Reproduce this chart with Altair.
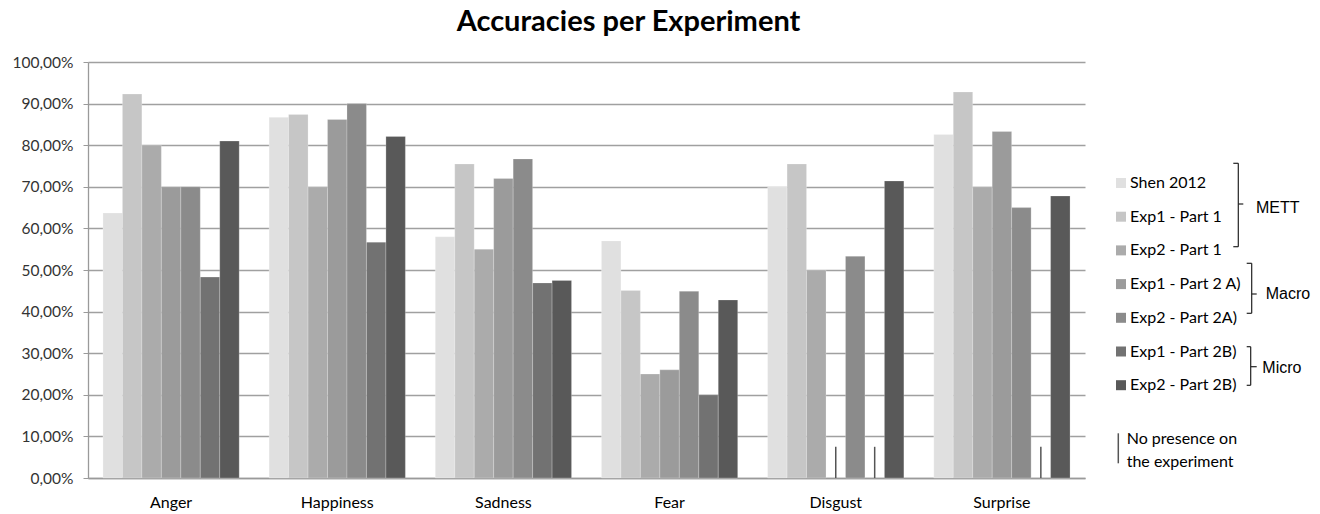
import altair as alt
import pandas as pd

emotions = ["Anger", "Happiness", "Sadness", "Fear", "Disgust", "Surprise"]
series = ["Shen 2012", "Exp1 - Part 1", "Exp2 - Part 1", "Exp1 - Part 2 A)",
          "Exp2 - Part 2A)", "Exp1 - Part 2B)", "Exp2 - Part 2B)"]
colors = ["#e0e0e0", "#c6c6c6", "#ababab", "#9b9b9b", "#8b8b8b", "#727272", "#595959"]

shen_2012 = [63.7, 86.7, 58.0, 57.0, 70.0, 82.6]
exp1_part1 = [92.3, 87.4, 75.5, 45.1, 75.5, 92.8]
exp2_part1 = [80.0, 70.0, 55.0, 25.0, 50.0, 70.0]
exp1_part2a = [70.0, 86.2, 72.0, 26.0, None, 83.3]
exp2_part2a = [70.0, 90.0, 76.7, 44.9, 53.3, 65.0]
exp1_part2b = [48.3, 56.7, 46.9, 20.0, None, None]
exp2_part2b = [81.0, 82.1, 47.5, 42.8, 71.4, 67.8]
marker_height = 7.5

groups = ["METT", "Macro", "Micro"]
missing_note = ["No presence on", "the experiment"]

values = [shen_2012, exp1_part1, exp2_part1, exp1_part2a, exp2_part2a, exp1_part2b, exp2_part2b]
rows = []
for s, vals in zip(series, values):
    for e, v in zip(emotions, vals):
        rows.append({"emotion": e, "series": s, "value": v})
df = pd.DataFrame(rows)
present = df[df["value"].notna()]
missing = df[df["value"].isna()]

FONT = "Lato"
x_enc = alt.X("emotion:N", sort=emotions, title=None,
              scale=alt.Scale(paddingInner=0.18, paddingOuter=0.09),
              axis=alt.Axis(labelAngle=0, labelFont=FONT, labelFontSize=16, labelColor="#000",
                            labelPadding=16, ticks=False, domainColor="#9a9a9a", domainWidth=1.3))
xo_enc = alt.XOffset("series:N", sort=series)

bars = alt.Chart(present).mark_bar(stroke="#ffffff", strokeWidth=0.5, strokeOpacity=0.45).encode(
    x=x_enc,
    xOffset=xo_enc,
    y=alt.Y("value:Q", title=None,
            scale=alt.Scale(domain=[0, 100], nice=False),
            axis=alt.Axis(values=list(range(0, 101, 10)),
                          labelExpr="replace(format(datum.value, '.2f'), '.', ',') + '%'",
                          labelFont=FONT, labelFontSize=15.5, labelColor="#333",
                          labelPadding=10, tickSize=5, tickColor="#9a9a9a",
                          domainColor="#9a9a9a", domainWidth=1.3,
                          gridColor="#a0a0a0", gridWidth=1.3)),
    color=alt.Color("series:N", sort=series,
                    scale=alt.Scale(domain=series, range=colors),
                    legend=alt.Legend(orient="none", legendX=1025, legendY=113, title=None,
                                      direction="vertical", symbolType="square", symbolSize=100,
                                      symbolStrokeWidth=0, labelFont=FONT, labelFontSize=16,
                                      labelColor="#000", rowPadding=17.7, labelOffset=1, padding=0)),
)

markers = alt.Chart(missing).mark_rule(color="#555555", strokeWidth=1.5).encode(
    x=alt.X("emotion:N", sort=emotions),
    xOffset=alt.XOffset("series:N", sort=series),
    y=alt.datum(0),
    y2=alt.datum(marker_height),
)

one = pd.DataFrame({"k": [0]})


def seg(x1, y1, x2, y2):
    return alt.Chart(one).mark_rule(color="#222222", strokeWidth=1.2).encode(
        x=alt.value(x1), x2=alt.value(x2), y=alt.value(y1), y2=alt.value(y2))


def label(txt, x, y, font="Liberation Sans", size=16):
    return alt.Chart(one).mark_text(text=txt, align="left", baseline="middle",
                                    font=font, fontSize=size, color="#000").encode(
        x=alt.value(x), y=alt.value(y))


ann = [
    # METT bracket
    seg(1150.3, 101.3, 1150.3, 184.7), seg(1145.3, 101.3, 1150.3, 101.3),
    seg(1145.3, 184.7, 1150.3, 184.7), seg(1150.3, 142, 1155.3, 142),
    label(groups[0], 1168, 146),
    # Macro bracket
    seg(1163.7, 201.3, 1163.7, 251.3), seg(1158.7, 201.3, 1163.7, 201.3),
    seg(1158.7, 251.3, 1163.7, 251.3), seg(1163.7, 232, 1168.7, 232),
    label(groups[1], 1177.7, 232),
    # Micro bracket
    seg(1162.7, 284.7, 1162.7, 323.3), seg(1158.7, 284.7, 1162.7, 284.7),
    seg(1158.7, 323.3, 1162.7, 323.3), seg(1162.7, 304.7, 1168.7, 304.7),
    label(groups[2], 1174.3, 306),
    # missing marker legend
    alt.Chart(one).mark_rule(color="#555555", strokeWidth=1.5).encode(
        x=alt.value(1030.3), y=alt.value(371.3), y2=alt.value(401.3)),
    label(missing_note[0], 1038.7, 377.3, font=FONT, size=16),
    label(missing_note[1], 1038.7, 399.7, font=FONT, size=16),
]

chart = alt.layer(bars, markers, *ann).properties(
    width=997, height=416,
    padding={"left": 80, "top": 54, "right": 227, "bottom": 35},
    autosize=alt.AutoSizeParams(type="none"),
    title=alt.TitleParams("Accuracies per Experiment", font=FONT, fontSize=29, fontWeight="bold",
                          color="#000", anchor="middle", dx=42, offset=18),
).configure_view(stroke=None).configure_axis(grid=True).configure_axisX(grid=False)

chart.save("out.html", embed_options={"renderer": "svg", "actions": False})
